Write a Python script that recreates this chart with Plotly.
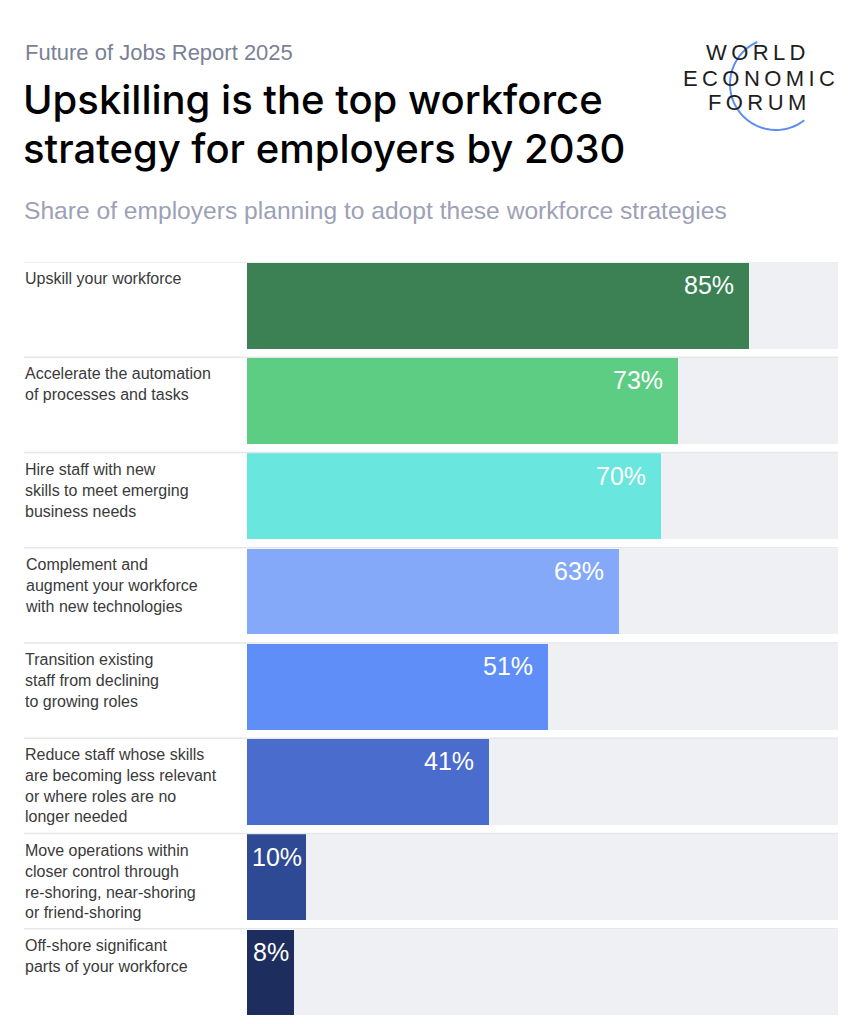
import numpy as np
import plotly.graph_objects as go

# data
strategies = [
    "Upskill your workforce",
    "Accelerate the automation<br>of processes and tasks",
    "Hire staff with new<br>skills to meet emerging<br>business needs",
    "Complement and<br>augment your workforce<br>with new technologies",
    "Transition existing<br>staff from declining<br>to growing roles",
    "Reduce staff whose skills<br>are becoming less relevant<br>or where roles are no<br>longer needed",
    "Move operations within<br>closer control through<br>re-shoring, near-shoring<br>or friend-shoring",
    "Off-shore significant<br>parts of your workforce",
]
share_pct = [85, 73, 70, 63, 51, 41, 10, 8]
bar_colors = ["#3b8153", "#5ecd84", "#69e6dd", "#84a9f8",
              "#5f8ef8", "#4a6ccc", "#2e4a94", "#1c2d5e"]
full_scale = 100

# page has an 8px body margin, so the figure is a bit smaller than the window
PAGE_OFF = 8
W, H = 846, 1016
ML, MR, MT, MB = 239, 16, 254, 0
FONT = "Liberation Sans, Arial, sans-serif"


def px(x):
    """page pixel x -> paper x"""
    return (x - PAGE_OFF - ML) / (W - ML - MR)


def py(y):
    """page pixel y -> paper y"""
    return (H - MB - (y - PAGE_OFF)) / (H - MT - MB)


rows = list(range(len(strategies)))

fig = go.Figure()
fig.add_trace(go.Bar(
    y=rows, x=[full_scale] * len(rows), orientation="h",
    marker=dict(color="#eff0f4", line_width=0),
    width=0.9, offset=-0.49, hoverinfo="skip", showlegend=False,
))
fig.add_trace(go.Bar(
    y=rows, x=share_pct, orientation="h",
    marker=dict(color=bar_colors, line_width=0),
    width=0.9, offset=-0.49, showlegend=False,
    hovertemplate="%{x}%<extra></extra>",
))

shapes = []
annotations = []
for i, (label, val) in enumerate(zip(strategies, share_pct)):
    # row separator
    shapes.append(dict(type="line", xref="paper", yref="y",
                       x0=px(24), x1=1, y0=i - 0.5, y1=i - 0.5,
                       line=dict(color="#e6e7eb", width=1.5)))
    annotations.append(dict(
        text=label, xref="paper", yref="y", x=px(23), y=i - 0.5,
        xanchor="left", yanchor="top", yshift=-6, align="left",
        showarrow=False, font=dict(family=FONT, size=16, color="#3a3a3a"),
    ))
    small = val < 15
    annotations.append(dict(
        text=f"{val}%", xref="x", yref="y",
        x=val / 2 if small else val, y=i - 0.5,
        xanchor="center" if small else "right", xshift=0 if small else -13,
        yanchor="top", yshift=-7, showarrow=False,
        font=dict(family=FONT, size=25, color="white"),
    ))

# header texts
title_font = dict(family="Inter, " + FONT, size=40, color="#000000", weight=500)
annotations += [
    dict(text="Future of Jobs Report 2025", xref="paper", yref="paper",
         x=px(23), y=py(52), xanchor="left", yanchor="middle", showarrow=False,
         font=dict(family=FONT, size=22, color="#7a8196")),
    dict(text="Upskilling is the top workforce", xref="paper", yref="paper",
         x=px(21), y=py(100), xanchor="left", yanchor="middle",
         showarrow=False, font=title_font),
    dict(text="strategy for employers by 2030", xref="paper", yref="paper",
         x=px(21), y=py(148), xanchor="left", yanchor="middle",
         showarrow=False, font=title_font),
    dict(text="Share of employers planning to adopt these workforce strategies",
         xref="paper", yref="paper", x=px(22), y=py(211), xanchor="left",
         yanchor="middle", showarrow=False,
         font=dict(family=FONT, size=24.6, color="#9ca1b6")),
]

# logo: letter-spaced wordmark with a blue arc
ts = "\u2009"
for word, xc, yc in [("WORLD", 756, 53), ("ECONOMIC", 759, 78), ("FORUM", 757, 103)]:
    annotations.append(dict(
        text=ts.join(word), xref="paper", yref="paper", x=px(xc), y=py(yc),
        xanchor="center", yanchor="middle", showarrow=False,
        font=dict(family=FONT, size=22, color="#1e1e1e"),
    ))
ang = np.radians(np.linspace(24, 218, 60))
cx, cy, r = 776, 84, 46
arc = "M " + " L ".join(
    f"{px(cx - r * np.sin(a)):.4f},{py(cy - r * np.cos(a)):.4f}" for a in ang)
shapes.append(dict(type="path", xref="paper", yref="paper", path=arc,
                   line=dict(color="#5b8ef0", width=2)))

fig.update_layout(
    width=W, height=H, margin=dict(l=ML, r=MR, t=MT, b=MB),
    paper_bgcolor="white", plot_bgcolor="white",
    barmode="overlay", bargap=0,
    xaxis=dict(range=[0, full_scale], visible=False, fixedrange=True),
    yaxis=dict(range=[len(rows) - 0.5, -0.5], visible=False, fixedrange=True),
    shapes=shapes, annotations=annotations,
)

fig.write_html("out.html")
